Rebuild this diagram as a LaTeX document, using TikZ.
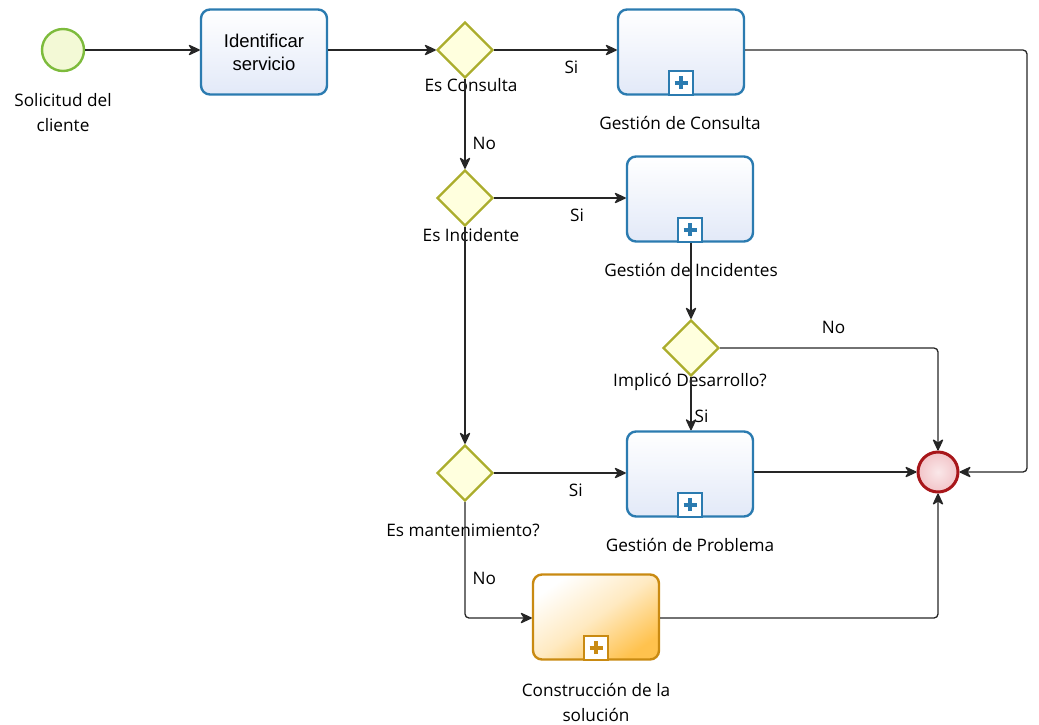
\documentclass[tikz,border=0pt]{standalone}
\usepackage{fontspec}
\setmainfont{Open Sans}
\newfontfamily\taskfont{Liberation Sans}
\usetikzlibrary{shapes.geometric,arrows.meta}
\definecolor{taskblue}{HTML}{2B7BB0}
\definecolor{taskfill}{HTML}{E2E9F8}
\definecolor{gwline}{HTML}{ABAD2C}
\definecolor{gwfill}{HTML}{FFFFDE}
\definecolor{startline}{HTML}{7DBB3C}
\definecolor{startfill}{HTML}{F3F9D6}
\definecolor{endline}{HTML}{A8161A}
\definecolor{endfill}{HTML}{F2C4C8}
\definecolor{orline}{HTML}{C98A12}
\definecolor{orfill}{HTML}{FFC24E}
\begin{document}
\begin{tikzpicture}[x=1pt,y=-1pt,
    flow/.style={draw=black!85,line width=1.3pt,rounded corners=4pt,
        -{Stealth[length=13pt,width=12pt,inset=4pt,round]}},
    tarea/.style={draw=taskblue,line width=2.4pt,rounded corners=9pt,
        minimum width=126pt,minimum height=85pt,
        top color=white,bottom color=taskfill},
    subtarea/.style={tarea},
    construccion/.style={tarea,draw=orline,top color=white,bottom color=orfill,
        middle color=orfill!35,shading angle=35},
    marca/.style={draw=taskblue,line width=2pt,fill=white,
        minimum size=24pt,inner sep=0pt,anchor=south},
    gateway/.style={diamond,draw=gwline,line width=2.4pt,fill=gwfill,
        minimum width=56pt,minimum height=56pt,inner sep=0pt},
    etiqueta/.style={font=\fontsize{17.2}{25}\selectfont,align=center,inner sep=1pt}]
\useasboundingbox (0,0) rectangle (1039,724);
% eventos
\node[circle,draw=startline,line width=2.4pt,fill=startfill,minimum size=42pt,inner sep=0pt] (inicio) at (63,50) {};
\node[circle,draw=endline,line width=3pt,inner color=endfill!40,outer color=endfill,minimum size=40pt,inner sep=0pt] (fin) at (938,472) {};
\node[etiqueta] (lInicio) at (63,113) {Solicitud del\\cliente};
% tareas
\node[tarea,font=\taskfont\fontsize{18.5}{23}\selectfont,align=center] (identificar) at (264,52) {Identificar\\servicio};
\node[subtarea] (consulta) at (681,52) {};
\node[subtarea] (incidentes) at (690,199) {};
\node[subtarea] (problema) at (690,474) {};
\node[construccion] (construir) at (596,617) {};
\foreach \t/\c in {consulta/taskblue,incidentes/taskblue,problema/taskblue,construir/orline}{
    \node[marca,draw=\c] (m\t) at (\t.south) {};
    \draw[\c,line width=4pt] ([yshift=-6.5pt]m\t.center) -- ([yshift=6.5pt]m\t.center);
    \draw[\c,line width=4pt] ([xshift=-6.5pt]m\t.center) -- ([xshift=6.5pt]m\t.center);
}
\node[etiqueta] (lConsulta) at (680,123) {Gestión de Consulta};
\node[etiqueta] (lIncidentes) at (691,270) {Gestión de Incidentes};
\node[etiqueta] (lProblema) at (690,545) {Gestión de Problema};
\node[etiqueta] (lConstruir) at (596,702) {Construcción de la\\solución};
% compuertas
\node[gateway] (esConsulta) at (465,50) {};
\node[gateway] (esIncidente) at (465,198) {};
\node[gateway] (implico) at (691,348) {};
\node[gateway] (esMant) at (465,473) {};
\node[etiqueta] (lEsConsulta) at (471,85) {Es Consulta};
\node[etiqueta] (lEsIncidente) at (471,235) {Es Incidente};
\node[etiqueta] (lImplico) at (690,382) {Implicó Desarrollo?};
\node[etiqueta] (lEsMant) at (463,530) {Es mantenimiento?};
% flujos
\coordinate (esqConsulta) at (1027,50);
\coordinate (esqImplico) at (938,348);
\coordinate (esqMant) at (465,618);
\coordinate (esqConstruir) at (938,618);
\draw[flow] (inicio) -- (identificar.west |- inicio);
\draw[flow] (identificar.east |- esConsulta) -- (esConsulta);
\draw[flow] (esConsulta) -- node[etiqueta,below=9pt,pos=0.63] {Si} (consulta.west |- esConsulta);
\draw[flow] (consulta.east |- esConsulta) -- (esqConsulta) |- (fin.east);
\draw[flow] (esConsulta) -- node[etiqueta,right=6pt,pos=0.72] {No} (esIncidente);
\draw[flow] (esIncidente) -- node[etiqueta,below=9pt,pos=0.63] {Si} (incidentes.west |- esIncidente);
\draw[flow] (incidentes.south -| implico) -- (implico);
\draw[flow] (implico) -- node[etiqueta,above=13pt,pos=0.52] {No} (esqImplico) -- (fin.north);
\draw[flow] (implico) -- node[etiqueta,right=2pt,pos=0.73] {Si} (problema.north -| implico);
\draw[flow] (esIncidente) -- (esMant);
\draw[flow] (esMant) -- node[etiqueta,below=9pt,pos=0.62] {Si} (problema.west |- esMant);
\draw[flow] (problema.east |- fin) -- (fin.west);
\draw[flow] (esMant) -- node[etiqueta,right=6pt,pos=0.66] {No} (esqMant) -- (construir.west |- esqMant);
\draw[flow] (construir.east |- esqConstruir) -- (esqConstruir) -- (fin.south);
\end{tikzpicture}
\end{document}
